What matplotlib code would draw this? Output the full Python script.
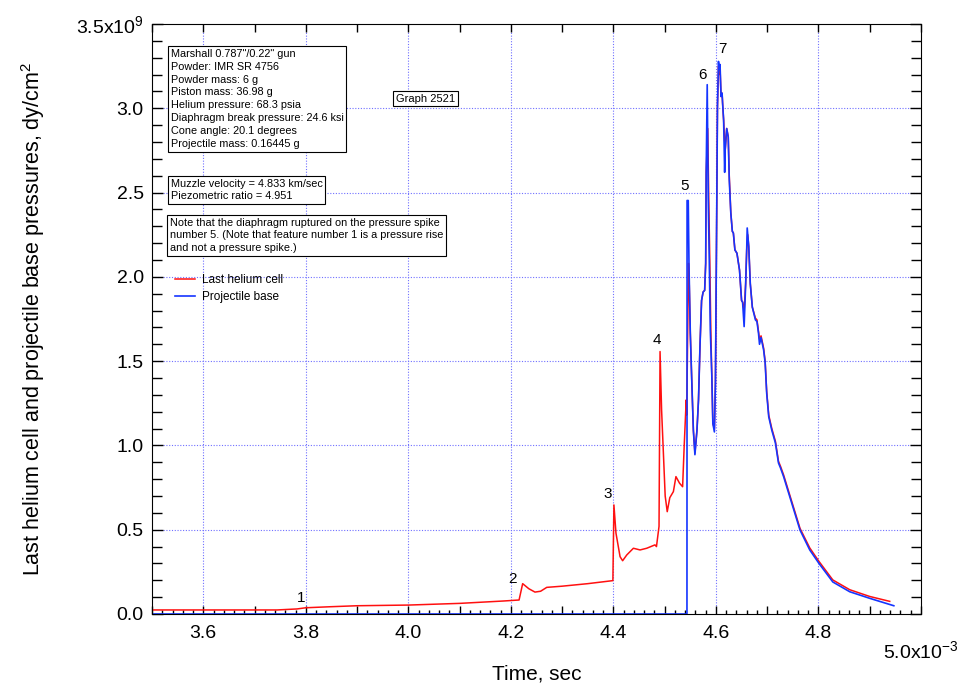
import matplotlib
matplotlib.use('Agg')
import matplotlib.pyplot as plt
from matplotlib.ticker import MultipleLocator, FuncFormatter

plt.rcParams['font.family'] = ['Liberation Sans', 'DejaVu Sans']
plt.rcParams['mathtext.fontset'] = 'custom'
plt.rcParams['mathtext.rm'] = 'Liberation Sans'
plt.rcParams['mathtext.it'] = 'Liberation Sans'

# time in units of 1e-3 s, pressure in units of 1e9 dy/cm^2
red_t = [3.500, 3.744, 3.783, 3.800, 3.847, 3.900, 4.000, 4.100, 4.185, 4.216,
         4.223, 4.235, 4.247, 4.258, 4.270, 4.300, 4.350, 4.399, 4.401, 4.405,
         4.413, 4.418, 4.426, 4.439, 4.452, 4.465, 4.481, 4.484, 4.489, 4.491,
         4.494, 4.501, 4.505, 4.510, 4.517, 4.522, 4.529, 4.535, 4.538, 4.542,
         4.543, 4.5465, 4.548, 4.550, 4.553, 4.556, 4.559, 4.563, 4.566, 4.569,
         4.572, 4.575, 4.578, 4.580, 4.581, 4.584, 4.586, 4.588, 4.590, 4.592,
         4.594, 4.597, 4.599, 4.601, 4.603, 4.605, 4.606, 4.608, 4.610, 4.612,
         4.613, 4.615, 4.618, 4.621, 4.624, 4.626, 4.629, 4.632, 4.634, 4.637,
         4.641, 4.646, 4.650, 4.652, 4.655, 4.658, 4.660, 4.662, 4.664, 4.667,
         4.671, 4.677, 4.680, 4.683, 4.685, 4.688, 4.693, 4.696, 4.699, 4.703,
         4.709, 4.716, 4.722, 4.726, 4.732, 4.744, 4.764, 4.783, 4.801, 4.828,
         4.861, 4.900, 4.939]
red_p = [0.024, 0.024, 0.030, 0.037, 0.043, 0.049, 0.053, 0.063, 0.077, 0.083,
         0.180, 0.150, 0.130, 0.135, 0.158, 0.165, 0.180, 0.198, 0.647, 0.480,
         0.340, 0.316, 0.350, 0.390, 0.380, 0.390, 0.410, 0.400, 0.520, 1.557,
         1.210, 0.700, 0.607, 0.690, 0.726, 0.815, 0.776, 0.755, 0.990, 1.270,
         1.180, 2.080, 1.950, 1.667, 1.370, 1.090, 0.955, 1.090, 1.270, 1.600,
         1.860, 1.910, 1.920, 2.080, 2.620, 2.880, 2.460, 2.100, 1.686, 1.410,
         1.130, 1.100, 1.370, 2.160, 3.010, 3.250, 3.200, 3.240, 3.070, 3.090,
         3.030, 2.930, 2.750, 2.880, 2.830, 2.600, 2.380, 2.270, 2.260, 2.160,
         2.140, 2.040, 1.860, 1.850, 1.800, 1.960, 2.160, 2.250, 2.180, 1.960,
         1.820, 1.755, 1.745, 1.677, 1.630, 1.650, 1.577, 1.500, 1.320, 1.180,
         1.100, 1.025, 0.906, 0.876, 0.825, 0.706, 0.508, 0.392, 0.312, 0.202,
         0.144, 0.104, 0.075]

blue_t = [3.500, 4.5435, 4.5437, 4.546, 4.5475, 4.550, 4.553, 4.556, 4.559, 4.563,
          4.566, 4.569, 4.572, 4.575, 4.578, 4.580, 4.581, 4.583, 4.585, 4.587,
          4.589, 4.592, 4.594, 4.597, 4.599, 4.601, 4.603, 4.605, 4.606, 4.608,
          4.610, 4.612, 4.613, 4.615, 4.617, 4.618, 4.621, 4.624, 4.626, 4.629,
          4.632, 4.634, 4.637, 4.641, 4.646, 4.650, 4.652, 4.655, 4.658, 4.660,
          4.661, 4.664, 4.667, 4.671, 4.677, 4.680, 4.683, 4.685, 4.688, 4.693,
          4.696, 4.699, 4.703, 4.709, 4.716, 4.722, 4.726, 4.732, 4.744, 4.764,
          4.783, 4.801, 4.828, 4.861, 4.900, 4.947]
blue_p = [0.000, 0.000, 2.453, 2.453, 2.060, 1.667, 1.370, 1.090, 0.945, 1.090,
          1.270, 1.600, 1.860, 1.910, 1.920, 2.080, 2.620, 3.140, 2.460, 2.100,
          1.686, 1.410, 1.130, 1.080, 1.370, 2.160, 3.010, 3.278, 3.230, 3.260,
          3.070, 3.090, 3.030, 2.930, 2.620, 2.750, 2.880, 2.830, 2.576, 2.380,
          2.270, 2.260, 2.160, 2.140, 2.040, 1.860, 1.850, 1.705, 1.960, 2.160,
          2.290, 2.180, 1.960, 1.820, 1.745, 1.735, 1.667, 1.600, 1.640, 1.567,
          1.490, 1.310, 1.170, 1.090, 1.015, 0.896, 0.866, 0.815, 0.696, 0.498,
          0.380, 0.300, 0.190, 0.132, 0.093, 0.049]

spike_labels = ['1', '2', '3', '4', '5', '6', '7']
spike_t = [3.791, 4.204, 4.389, 4.485, 4.538, 4.573, 4.612]
spike_p = [0.095, 0.208, 0.712, 1.626, 2.540, 3.200, 3.350]

info_text = ('Marshall 0.787"/0.22" gun\nPowder: IMR SR 4756\nPowder mass: 6 g\n'
             'Piston mass: 36.98 g\nHelium pressure: 68.3 psia\n'
             'Diaphragm break pressure: 24.6 ksi\nCone angle: 20.1 degrees\n'
             'Projectile mass: 0.16445 g')
result_text = 'Muzzle velocity = 4.833 km/sec\nPiezometric ratio = 4.951'
note_text = ('Note that the diaphragm ruptured on the pressure spike\n'
             'number 5. (Note that feature number 1 is a pressure rise\n'
             'and not a pressure spike.)')

fig = plt.figure(figsize=(9.64, 6.88), dpi=100)
ax = fig.add_axes([152 / 964, 74 / 688, 769 / 964, 590 / 688])

ax.plot(red_t, red_p, color='#ff1010', lw=1.1, label='Last helium cell')
ax.plot(blue_t, blue_p, color='#1535ff', lw=1.2, label='Projectile base')

ax.set_xlim(3.5, 5.0)
ax.set_ylim(0, 3.5)

# grid at labelled ticks only
grid_kw = dict(color='#7070ff', lw=0.8, ls=(0, (1, 1.5)), zorder=0)
for gx in [3.6, 3.8, 4.0, 4.2, 4.4, 4.6, 4.8]:
    ax.axvline(gx, **grid_kw)
for gy in [0.5, 1.0, 1.5, 2.0, 2.5, 3.0]:
    ax.axhline(gy, **grid_kw)

ax.xaxis.set_major_locator(MultipleLocator(0.1))
ax.xaxis.set_minor_locator(MultipleLocator(0.02))
ax.yaxis.set_major_locator(MultipleLocator(0.5))
ax.yaxis.set_minor_locator(MultipleLocator(0.1))


def xfmt(v, pos):
    k = int(round(v * 10))
    if k % 2 == 0 and 36 <= k <= 48:
        return '%.1f' % v
    return ''


def yfmt(v, pos):
    if abs(v - 3.5) < 1e-6:
        return r'3.5x10$^{\mathregular{9}}$'
    return '%.1f' % v


ax.xaxis.set_major_formatter(FuncFormatter(xfmt))
ax.yaxis.set_major_formatter(FuncFormatter(yfmt))
ax.tick_params(which='both', direction='in', top=True, right=True,
               labelsize=14, width=1)
ax.tick_params(axis='x', which='major', length=6, pad=8)
ax.tick_params(axis='x', which='minor', length=3, top=False)
ax.tick_params(axis='y', which='major', length=8, pad=6)
ax.tick_params(axis='y', which='minor', length=7)

ax.text(5.0, -0.045, r'5.0x10$^{\mathregular{-3}}$', fontsize=14,
        ha='center', va='top', transform=ax.get_xaxis_transform())

ax.set_xlabel('Time, sec', fontsize=15, labelpad=16)
ax.set_ylabel(r'Last helium cell and projectile base pressures, dy/cm$^{\mathregular{2}}$',
              fontsize=15.5)
ax.yaxis.set_label_coords(-0.137, 0.5)

for lab, t, p in zip(spike_labels, spike_t, spike_p):
    ax.text(t, p, lab, fontsize=11, ha='center', va='center')

box = dict(boxstyle='square,pad=0.25', fc='white', ec='black', lw=0.8)
ax.text(0.0242, 0.958, info_text, fontsize=7.8, va='top', ha='left',
        linespacing=1.36, bbox=box, transform=ax.transAxes)
ax.text(0.0242, 0.738, result_text, fontsize=7.8, va='top', ha='left',
        linespacing=1.36, bbox=box, transform=ax.transAxes)
ax.text(0.0229, 0.672, note_text, fontsize=7.8, va='top', ha='left',
        linespacing=1.36, bbox=box, transform=ax.transAxes)
ax.text(0.3557, 0.8737, 'Graph 2521', fontsize=8, va='center', ha='center',
        bbox=box, transform=ax.transAxes)

ax.legend(loc='upper left', bbox_to_anchor=(0.024, 0.584), frameon=False,
          fontsize=8.5, handlelength=1.7, handletextpad=0.6, labelspacing=0.45,
          borderaxespad=0)

fig.savefig('out.png', dpi=100)
